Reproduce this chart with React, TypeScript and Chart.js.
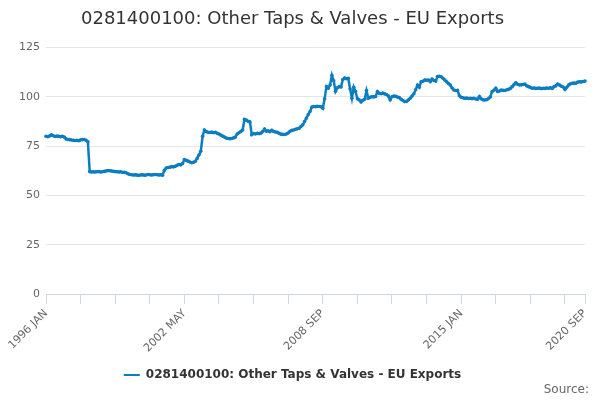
import { useEffect, useRef } from 'react';
import { Chart, registerables } from 'chart.js';

Chart.register(...registerables);

const TITLE = '0281400100: Other Taps & Valves - EU Exports';
const MONTHS = ['JAN', 'FEB', 'MAR', 'APR', 'MAY', 'JUN', 'JUL', 'AUG', 'SEP', 'OCT', 'NOV', 'DEC'];
const FIRST_YEAR = 1996;
const TICK_STEP = 19; // a tick mark every 19 months
const LABEL_STEP = 76; // a label every 4th tick mark
const Y_MIN = 0;
const Y_MAX = 125;
const Y_STEP = 25;

// monthly values, Jan 1996 .. Sep 2020, one row per year
const euExports = [
  80.0, 79.8, 80.2, 80.7, 80.3, 79.9, 80.1, 80.0, 79.8, 80.0, 79.6, 78.7,
  78.4, 78.3, 78.1, 78.0, 77.9, 78.0, 77.8, 78.2, 78.3, 78.4, 78.0, 77.2,
  62.1, 61.9, 62.0, 61.9, 62.0, 62.1, 61.9, 62.0, 62.2, 62.4, 62.6, 62.5,
  62.4, 62.3, 62.1, 62.0, 61.9, 62.0, 61.8, 61.7, 61.5, 61.0, 60.6, 60.5,
  60.4, 60.5, 60.3, 60.2, 60.4, 60.5, 60.3, 60.4, 60.6, 60.5, 60.4, 60.5,
  60.6, 60.5, 60.4, 60.5, 60.3, 62.8, 63.9, 64.2, 64.3, 64.6, 64.5, 64.8,
  65.3, 65.7, 65.5, 66.2, 68.2, 67.8, 67.4, 67.0, 66.6, 66.8, 67.3, 68.8,
  70.5, 72.4, 80.0, 83.2, 82.4, 82.0, 81.9, 82.1, 81.8, 82.0, 81.5, 81.2,
  80.6, 80.1, 79.6, 79.1, 78.9, 78.8, 78.9, 79.2, 79.6, 81.2, 81.8, 82.5,
  83.2, 88.6, 88.2, 87.6, 87.3, 80.8, 81.4, 81.2, 81.5, 81.3, 81.6, 82.4,
  83.7, 82.6, 82.8, 82.3, 83.1, 82.4, 82.2, 82.0, 81.5, 81.1, 81.0, 80.9,
  81.2, 81.7, 82.6, 83.0, 83.2, 83.6, 83.8, 84.1, 85.0, 85.8, 87.5, 89.2,
  91.0, 92.6, 94.8, 95.1, 95.0, 95.2, 95.1, 95.0, 94.2, 99.0, 105.2, 104.4,
  106.0, 111.0, 108.2, 102.8, 104.6, 105.2, 105.0, 108.8, 109.6, 109.2, 109.4, 104.0,
  99.3, 104.9, 102.7, 99.0, 98.5, 97.4, 98.3, 98.8, 103.2, 99.3, 99.8, 100.1,
  100.0, 100.2, 102.7, 101.8, 101.6, 101.9, 101.5, 101.2, 100.5, 98.5, 100.1, 100.4,
  100.3, 99.9, 99.6, 98.8, 98.2, 97.6, 97.7, 98.4, 99.3, 100.4, 101.6, 103.6,
  106.0, 104.9, 107.7, 107.9, 108.6, 108.4, 108.6, 107.7, 109.0, 108.3, 108.0, 110.3,
  110.5, 110.2, 109.4, 108.6, 107.7, 106.8, 106.0, 104.5, 103.5, 103.2, 103.3, 100.6,
  99.8, 99.5, 99.3, 99.4, 99.2, 99.3, 99.1, 99.3, 98.9, 98.8, 100.2, 99.0,
  98.5, 98.4, 98.6, 99.2, 100.0, 102.7, 103.4, 104.4, 102.7, 103.0, 103.5, 103.3,
  103.2, 103.6, 103.8, 104.3, 105.2, 106.2, 107.2, 106.4, 106.0, 106.1, 106.3, 106.5,
  105.6, 105.2, 104.8, 104.4, 104.5, 104.3, 104.4, 104.5, 104.2, 104.4, 104.3, 104.5,
  104.4, 104.6, 104.3, 105.2, 105.6, 106.5, 106.0, 105.4, 105.0, 103.8, 104.9, 106.0,
  106.6, 106.9, 107.0, 106.9, 107.5, 107.7, 107.6, 107.8, 108.0,
];

const monthLabels = euExports.map(
  (_, i) => `${FIRST_YEAR + Math.floor(i / 12)} ${MONTHS[i % 12]}`
);

const LINE_COLOR = '#0b7dc1';
const FONT = "'DejaVu Sans', Verdana, sans-serif";

const App = () => {
  const canvasRef = useRef<HTMLCanvasElement>(null);
  const chartRef = useRef<Chart | null>(null);

  useEffect(() => {
    document.body.style.margin = '0';
    if (!canvasRef.current) return;
    if (chartRef.current) chartRef.current.destroy();

    const last = monthLabels.length - 1;
    const isTick = (i: number) => i % TICK_STEP === 0 || i === last;

    chartRef.current = new Chart(canvasRef.current, {
      type: 'line',
      data: {
        labels: monthLabels,
        datasets: [{
          label: TITLE,
          data: euExports,
          borderColor: LINE_COLOR,
          backgroundColor: LINE_COLOR,
          borderWidth: 2.5,
          pointRadius: 1.8,
          pointHoverRadius: 3,
          pointBorderWidth: 0,
          tension: 0,
        }],
      },
      options: {
        animation: false,
        responsive: true,
        maintainAspectRatio: false,
        layout: { padding: { left: 0, right: 15, top: 0, bottom: 9 } },
        plugins: {
          title: {
            display: true,
            text: TITLE,
            color: '#333333',
            font: { family: FONT, size: 18, weight: 'normal' },
            padding: { top: 9, bottom: 17 },
          },
          legend: {
            position: 'bottom',
            labels: {
              color: '#333333',
              font: { family: FONT, size: 12, weight: 'bold' },
              usePointStyle: true,
              pointStyleWidth: 16,
              padding: 8,
              generateLabels: (chart) =>
                Chart.defaults.plugins.legend.labels.generateLabels(chart).map((item) => ({
                  ...item,
                  pointStyle: 'line',
                  lineWidth: 2,
                  strokeStyle: LINE_COLOR,
                })),
            },
          },
          tooltip: { enabled: false },
        },
        scales: {
          x: {
            ticks: {
              autoSkip: false,
              maxRotation: 45,
              minRotation: 45,
              color: '#666666',
              font: { family: FONT, size: 11 },
              callback: (_v, i) =>
                i % LABEL_STEP === 0 || i === last ? monthLabels[i] : '',
            },
            grid: {
              drawOnChartArea: false,
              drawTicks: true,
              tickLength: 10,
              color: (ctx) => (isTick(ctx.index) ? '#ccd6eb' : 'rgba(0,0,0,0)'),
            },
            border: { color: '#ccd6eb' },
            afterFit: (scale) => {
              scale.height = 67;
            },
          },
          y: {
            min: Y_MIN,
            max: Y_MAX,
            ticks: {
              stepSize: Y_STEP,
              color: '#666666',
              font: { family: FONT, size: 11 },
              padding: 6,
            },
            grid: { color: '#e6e6e6', drawTicks: false },
            border: { display: false },
            afterFit: (scale) => {
              scale.width = 46;
            },
          },
        },
      },
    });

    return () => {
      if (chartRef.current) {
        chartRef.current.destroy();
        chartRef.current = null;
      }
    };
  }, []);

  return (
    <div style={{ position: 'relative', width: 600, height: 400, fontFamily: FONT }}>
      <canvas ref={canvasRef} />
      <div style={{ position: 'absolute', right: 11, top: 382, fontSize: 12, color: '#666666' }}>
        Source:
      </div>
    </div>
  );
};

export default App;
